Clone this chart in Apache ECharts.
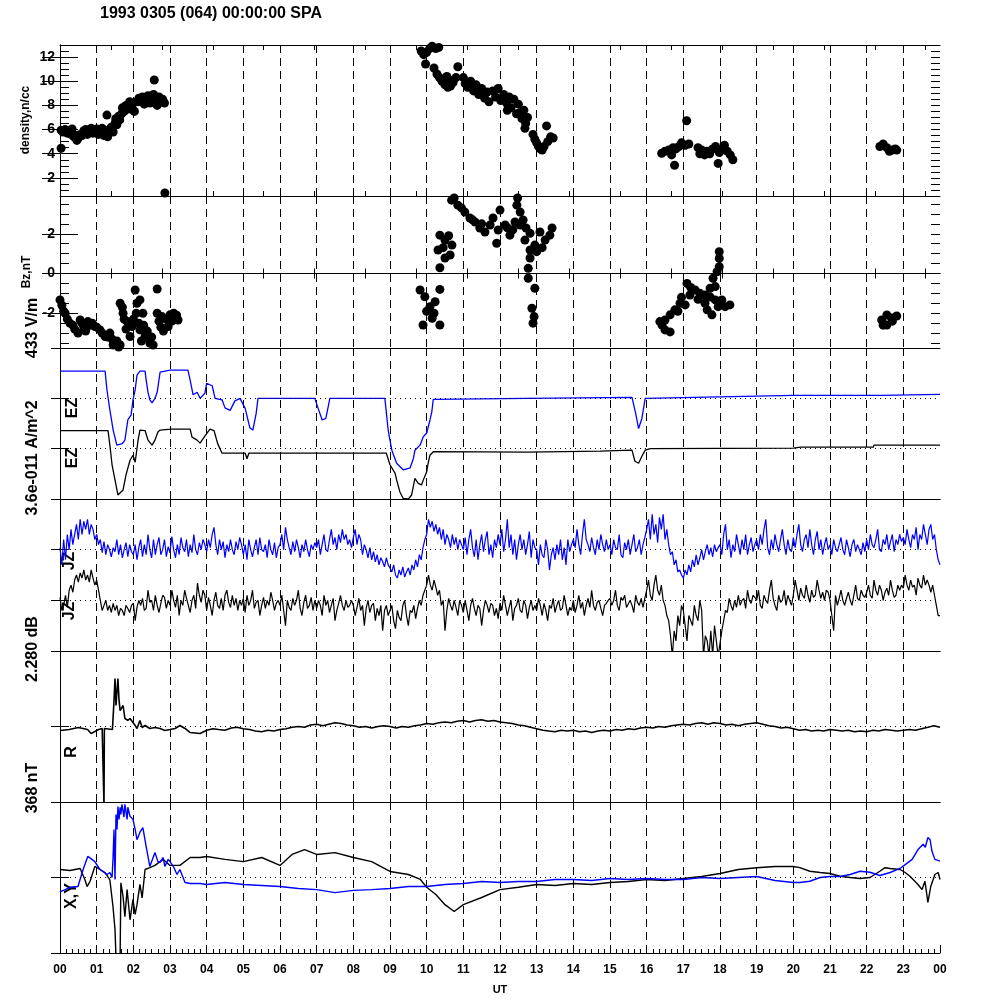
<!DOCTYPE html>
<html>
<head>
<meta charset="utf-8">
<script src="https://cdn.jsdelivr.net/npm/echarts@6/dist/echarts.min.js"></script>
<style>
  html, body { margin: 0; padding: 0; background: #fff; }
  #chart { width: 1000px; height: 1000px; }
</style>
</head>
<body>
<div id="chart"></div>
<script>
// ---------------- data ----------------
const titleText = '1993 0305 (064) 00:00:00 SPA'
const hourLabels = ['00', '01', '02', '03', '04', '05', '06', '07', '08', '09', '10', '11',
  '12', '13', '14', '15', '16', '17', '18', '19', '20', '21', '22', '23', '00']
const densityTicks = [2, 4, 6, 8, 10, 12]
const bzTicks = [-2, 0, 2]

// density, n/cc  [UT hour, value]
const densityPoints = [
  [0.03, 4.45], [0.03, 5.95], [0.08, 5.8], [0.14, 6.0], [0.2, 5.7], [0.25, 5.9], [0.3, 5.6], [0.33, 6.05],
  [0.38, 5.4], [0.42, 5.5], [0.46, 5.1], [0.5, 5.3], [0.55, 5.6], [0.6, 5.5], [0.65, 5.9], [0.7, 6.0],
  [0.75, 5.6], [0.8, 5.8], [0.85, 6.1], [0.9, 5.7], [0.95, 5.9], [1.0, 6.05], [1.05, 5.6], [1.1, 5.8],
  [1.15, 6.1], [1.2, 5.5], [1.25, 5.9], [1.28, 7.2], [1.3, 5.4], [1.35, 6.0], [1.4, 6.2], [1.45, 5.8],
  [1.5, 6.5], [1.52, 6.9], [1.55, 6.4], [1.6, 7.1], [1.63, 6.8], [1.68, 7.3], [1.7, 7.8], [1.75, 7.5],
  [1.8, 8.0], [1.85, 7.7], [1.9, 8.3], [1.95, 7.9], [2.0, 7.6], [2.03, 7.5], [2.1, 8.3], [2.15, 8.6],
  [2.2, 8.3], [2.25, 8.7], [2.3, 8.1], [2.35, 8.5], [2.4, 8.8], [2.45, 8.2], [2.5, 8.6], [2.55, 8.9],
  [2.57, 10.1], [2.6, 8.4], [2.65, 8.0], [2.7, 8.7], [2.75, 8.3], [2.8, 8.5], [2.85, 8.2], [2.86, 0.75],
  [9.85, 12.5], [9.92, 12.2], [10.0, 12.4], [10.08, 12.7], [10.15, 12.9], [10.25, 12.7], [10.33, 12.8],
  [9.97, 11.43], [10.2, 11.1], [10.28, 10.6], [10.35, 10.3], [10.42, 10.0], [10.5, 9.7], [10.58, 9.5],
  [10.65, 9.6], [10.72, 9.9], [10.8, 10.3], [10.85, 11.2], [10.55, 10.4], [10.62, 10.1],
  [11.0, 10.3], [11.05, 9.8], [11.12, 9.5], [11.2, 10.0], [11.28, 9.2], [11.35, 9.7], [11.42, 8.9],
  [11.5, 9.4], [11.58, 8.6], [11.65, 9.1], [11.7, 8.3], [11.8, 9.2], [11.88, 8.7], [11.95, 9.4],
  [12.02, 8.4], [12.1, 8.9], [12.18, 8.2], [12.25, 8.7], [12.3, 7.8], [12.38, 8.5], [12.45, 7.3],
  [12.2, 7.6], [12.5, 8.1], [12.55, 7.4], [12.6, 6.9], [12.65, 7.6], [12.7, 6.5], [12.75, 7.0],
  [12.68, 6.1], [13.27, 6.3], [12.9, 5.6], [12.95, 5.2], [13.0, 4.9], [13.05, 4.6], [13.1, 4.4],
  [13.15, 4.3], [13.2, 4.6], [13.3, 5.0], [13.38, 5.4], [13.45, 5.3],
  [16.41, 4.04], [16.5, 4.2], [16.6, 4.3], [16.68, 3.9], [16.72, 4.5], [16.76, 3.05], [16.8, 4.4],
  [16.88, 4.6], [16.95, 4.9], [17.05, 4.7], [17.09, 6.73], [17.15, 4.8], [17.4, 4.5], [17.45, 4.0],
  [17.5, 4.3], [17.58, 3.9], [17.65, 4.2], [17.72, 4.0], [17.8, 4.4], [17.88, 4.6], [17.95, 3.2],
  [17.98, 4.1], [18.05, 4.3], [18.12, 4.7], [18.2, 4.2], [18.28, 3.9], [18.35, 3.5],
  [22.36, 4.6], [22.45, 4.8], [22.55, 4.5], [22.62, 4.2], [22.7, 4.3], [22.78, 4.4], [22.82, 4.3]
]

// Bz, nT  [UT hour, value]
const bzPoints = [
  [0.0, -1.33], [0.05, -1.6], [0.1, -1.9], [0.14, -2.0], [0.2, -2.3], [0.27, -2.5], [0.35, -2.6],
  [0.4, -2.8], [0.49, -3.0], [0.55, -2.34], [0.6, -2.5], [0.65, -2.7], [0.7, -2.9], [0.76, -2.42],
  [0.82, -2.6], [0.88, -2.5], [0.95, -2.67], [1.0, -2.7], [1.09, -2.84], [1.15, -3.0], [1.23, -3.17],
  [1.3, -3.2], [1.36, -3.0], [1.42, -3.3], [1.45, -3.6], [1.5, -3.5], [1.55, -3.4], [1.6, -3.7],
  [1.64, -3.6], [1.64, -1.5], [1.7, -1.7], [1.72, -2.0], [1.75, -2.3], [1.8, -2.8], [1.83, -2.42],
  [1.87, -2.6], [1.91, -3.17], [1.96, -2.67], [2.0, -2.3], [2.05, -0.83], [2.08, -2.0], [2.1, -1.5],
  [2.15, -2.5], [2.18, -1.33], [2.18, -2.84], [2.22, -3.4], [2.26, -2.0], [2.28, -2.6], [2.32, -3.17],
  [2.38, -2.9], [2.45, -3.5], [2.5, -3.2], [2.54, -3.6], [2.65, -0.78], [2.65, -2.0], [2.7, -2.4],
  [2.75, -2.7], [2.78, -2.17], [2.82, -2.9], [2.9, -2.3], [2.95, -2.67], [3.0, -2.08], [3.05, -2.4],
  [3.1, -2.0], [3.14, -2.17], [3.18, -2.1], [3.22, -2.34],
  [9.82, -0.83], [10.36, -0.8], [9.95, -1.17], [10.09, -1.67], [10.23, -1.42], [10.15, -2.25],
  [9.9, -2.59], [10.36, -2.59], [10.0, -1.9], [10.2, -2.0],
  [10.36, 1.93], [10.31, 1.18], [10.5, 1.68], [10.64, 0.93], [10.69, 1.43], [10.5, 0.78], [10.36, 0.29],
  [10.45, 1.3], [10.6, 1.9], [10.68, 3.69], [10.85, 3.44], [11.04, 3.09], [11.18, 2.79], [10.75, 3.8],
  [10.95, 3.3], [11.32, 2.59], [11.45, 2.29], [11.59, 2.09], [11.73, 2.44], [11.81, 2.79], [11.95, 2.19],
  [11.25, 2.7], [11.5, 2.5], [12.0, 3.19], [12.14, 2.44], [12.27, 1.93], [11.91, 1.52], [12.41, 2.59],
  [12.55, 2.44], [12.48, 3.8], [12.46, 3.44], [12.55, 3.09], [12.63, 2.69], [12.71, 2.29], [12.82, 2.02],
  [12.35, 2.2], [12.2, 2.3], [12.68, 1.68], [12.82, 1.18], [12.95, 1.43], [13.09, 2.09], [13.23, 1.68],
  [13.36, 1.93], [13.42, 2.29], [12.82, 0.78], [12.77, 0.26], [13.0, 1.1], [13.15, 1.3],
  [12.77, -0.24], [12.95, -0.74], [12.87, -1.75], [12.93, -2.17], [12.9, -2.5],
  [17.98, 1.1], [17.98, 0.76], [17.98, 0.34], [17.92, 0.09], [17.81, -0.24], [17.87, -0.66],
  [17.73, -0.74], [17.59, -1.08], [17.45, -1.0], [17.32, -0.83], [17.18, -1.08], [17.05, -1.58],
  [16.91, -1.5], [16.77, -1.83], [16.64, -2.08], [16.5, -2.34], [16.42, -2.59], [16.5, -2.84],
  [16.64, -2.94], [16.36, -2.42], [17.59, -1.5], [17.65, -1.83], [17.78, -2.08], [17.95, -1.67],
  [18.14, -1.67], [18.27, -1.58], [18.05, -1.33], [17.87, -1.33], [17.73, -1.18], [17.1, -0.5],
  [17.2, -0.7], [17.4, -1.3], [16.85, -1.9], [16.95, -1.2],
  [22.41, -2.34], [22.55, -2.59], [22.68, -2.24], [22.82, -2.14], [22.55, -2.09], [22.45, -2.6], [22.7, -2.4]
]

// EZ traces (panel units: blue trace zero at 2, black trace zero at 1)
const ezBlue = [
  [0, 2.54], [1.23, 2.54], [1.28, 2.17], [1.36, 1.77], [1.45, 1.37], [1.55, 1.07], [1.58, 1.04],
  [1.7, 1.1], [1.77, 1.17], [1.85, 1.57], [1.94, 1.67], [1.99, 1.97], [2.05, 2.17], [2.1, 2.46],
  [2.18, 2.54], [2.32, 2.54], [2.35, 2.36], [2.4, 2.12], [2.45, 1.97], [2.51, 1.91], [2.59, 2.0],
  [2.65, 2.12], [2.73, 2.52], [3.0, 2.56], [3.49, 2.56], [3.55, 2.36], [3.63, 2.07], [3.74, 2.12],
  [3.82, 2.0], [3.95, 2.1], [4.0, 2.3], [4.15, 2.25], [4.23, 2.0], [4.42, 1.97], [4.5, 1.81],
  [4.64, 1.76], [4.77, 1.95], [4.91, 2.0], [5.05, 1.8], [5.18, 1.41], [5.26, 1.37], [5.35, 1.7],
  [5.4, 2.0], [6.95, 2.0], [7.04, 1.8], [7.15, 1.57], [7.25, 1.6], [7.36, 2.0], [8.86, 2.0],
  [8.95, 1.37], [9.05, 0.97], [9.18, 0.71], [9.36, 0.58], [9.55, 0.62], [9.64, 0.81], [9.68, 0.97],
  [9.82, 1.07], [9.91, 1.24], [10.0, 1.31], [10.09, 1.57], [10.14, 1.73], [10.18, 1.98], [10.23, 2.0],
  [12.73, 2.0], [12.76, 2.02], [15.6, 2.02], [15.7, 1.7], [15.78, 1.4], [15.87, 1.6], [15.96, 2.0],
  [16.0, 2.03], [20.0, 2.06], [22.41, 2.06], [22.42, 2.08], [24, 2.08]
]
const ezBlack = [
  [0, 1.36], [1.31, 1.36], [1.36, 1.07], [1.42, 0.68], [1.5, 0.38], [1.58, 0.08], [1.61, 0.08],
  [1.72, 0.18], [1.8, 0.48], [1.91, 0.77], [1.99, 0.87], [2.05, 0.73], [2.13, 1.17], [2.18, 1.37],
  [2.32, 1.36], [2.4, 1.17], [2.51, 1.07], [2.59, 1.17], [2.67, 1.33], [2.73, 1.37], [3.03, 1.39],
  [3.55, 1.39], [3.6, 1.23], [3.74, 1.17], [3.82, 1.11], [3.95, 1.25], [4.09, 1.39], [4.2, 1.36],
  [4.3, 1.1], [4.42, 0.91], [5.05, 0.91], [5.1, 0.8], [5.15, 0.91], [8.9, 0.91], [9.0, 0.68],
  [9.14, 0.51], [9.18, 0.38], [9.27, 0.14], [9.36, 0.01], [9.5, 0.0], [9.59, 0.08], [9.68, 0.41],
  [9.77, 0.31], [9.86, 0.28], [9.91, 0.38], [10.0, 0.54], [10.04, 0.71], [10.09, 0.87], [10.18, 0.94],
  [12.73, 0.93], [12.76, 0.95], [14.73, 0.95], [14.76, 0.97], [15.6, 0.97], [15.68, 0.75],
  [15.78, 0.71], [15.87, 0.85], [15.96, 0.97], [16.1, 1.0], [20.0, 1.01], [20.2, 1.03], [22.18, 1.03],
  [22.2, 1.07], [24, 1.07]
]

// JZ traces, one sample every 3 minutes from 00:00 to 24:00 (one row per hour)
const jzStepMinutes = 3
const jzBlue = [
  2.04, 1.7, 2.2, 1.8, 2.3, 2.0, 2.4, 2.1, 2.3, 2.5, 2.2, 2.6, 2.3, 2.56, 2.4, 2.6, 2.3, 2.5, 2.4, 2.2,
  2.3, 2.1, 2.2, 1.94, 2.16, 1.9, 2.1, 2.0, 1.86, 2.04, 1.96, 2.2, 1.9, 2.1, 1.84, 2.0, 2.14, 1.86, 2.1, 1.96,
  1.9, 2.1, 1.8, 2.04, 2.2, 1.86, 2.1, 1.9, 2.3, 2.0, 1.84, 2.2, 1.9, 2.1, 2.24, 1.9, 2.0, 2.2, 1.86, 2.06,
  1.94, 2.26, 2.0, 1.84, 2.1, 1.9, 2.24, 2.04, 1.96, 2.2, 1.86, 2.1, 1.94, 2.3, 2.0, 1.9, 2.14, 2.0, 2.2, 2.1,
  1.96, 2.2, 2.04, 2.3, 2.44, 2.1, 1.9, 2.2, 2.0, 2.16, 1.84, 2.1, 1.96, 2.2, 2.0, 1.9, 2.16, 2.0, 2.24, 2.1,
  1.9, 2.1, 1.8, 2.2, 2.0, 1.86, 2.04, 2.2, 1.9, 2.24, 2.0, 1.96, 2.1, 1.84, 2.2, 2.0, 1.9, 2.14, 1.84, 2.04,
  2.1, 2.3, 2.0, 2.44, 2.2, 2.04, 1.9, 2.16, 1.96, 2.2, 2.04, 1.84, 2.1, 1.96, 2.2, 2.0, 1.86, 2.1, 2.0, 2.14,
  2.04, 2.2, 1.9, 2.1, 2.3, 2.0, 1.96, 2.2, 2.4, 2.1, 2.24, 2.0, 2.3, 2.14, 2.4, 2.2, 2.3, 2.1, 2.2, 2.04,
  2.24, 2.4, 2.1, 2.3, 2.2, 1.9, 2.1, 2.0, 1.84, 2.04, 1.8, 1.96, 1.76, 1.9, 1.7, 1.84, 1.76, 1.66, 1.84, 1.7,
  1.64, 1.56, 1.7, 1.5, 1.44, 1.6, 1.5, 1.66, 1.46, 1.56, 1.64, 1.5, 1.7, 1.6, 1.8, 1.66, 1.9, 1.8, 2.04, 2.2,
  2.3, 2.6, 2.44, 2.56, 2.36, 2.5, 2.3, 2.44, 2.2, 2.4, 2.1, 2.3, 2.2, 2.04, 2.3, 2.1, 2.24, 2.0, 2.2, 2.1,
  2.0, 2.24, 1.9, 2.2, 2.4, 2.04, 1.86, 2.2, 1.8, 2.1, 2.3, 1.96, 2.2, 2.36, 1.9, 2.1, 1.84, 2.2, 2.04, 2.3,
  2.1, 2.4, 1.96, 2.2, 2.6, 2.04, 2.3, 1.9, 2.2, 1.8, 2.1, 2.3, 2.0, 2.2, 1.9, 2.1, 2.36, 1.84, 2.2, 2.04,
  2.0, 1.7, 2.1, 1.9, 1.84, 2.2, 2.0, 1.6, 1.9, 2.04, 1.8, 2.1, 1.9, 2.2, 1.8, 2.04, 1.7, 2.2, 1.96, 2.1,
  2.2, 2.04, 2.4, 2.1, 1.9, 2.3, 2.6, 2.2, 2.1, 1.96, 2.24, 2.04, 1.9, 2.2, 2.0, 2.3, 2.1, 1.96, 2.2, 2.0,
  2.1, 1.9, 2.2, 2.04, 2.0, 2.3, 1.9, 1.84, 2.14, 2.0, 2.2, 1.9, 2.1, 2.3, 1.96, 2.04, 2.2, 1.9, 2.1, 2.24,
  2.4, 2.6, 2.2, 2.7, 2.3, 2.5, 2.14, 2.64, 2.4, 2.7, 2.2, 2.4, 2.1, 1.9, 1.96, 1.7, 1.8, 1.56, 1.6, 1.5,
  1.44, 1.6, 1.5, 1.7, 1.56, 1.8, 1.66, 1.9, 1.7, 1.84, 2.0, 1.8, 1.96, 2.1, 1.9, 2.04, 1.86, 2.1, 1.96, 2.04,
  2.1, 1.9, 2.3, 2.5, 2.0, 2.2, 1.84, 2.1, 1.96, 2.3, 2.1, 1.9, 2.2, 2.0, 2.3, 1.9, 2.1, 2.24, 1.96, 2.1,
  2.2, 2.0, 2.3, 2.1, 2.4, 2.6, 2.04, 1.9, 2.2, 2.0, 2.3, 2.1, 1.96, 2.2, 2.4, 2.1, 1.9, 2.2, 2.0, 1.96,
  2.24, 2.04, 2.3, 2.5, 2.1, 1.96, 2.2, 2.3, 2.04, 2.4, 2.1, 1.9, 2.2, 2.36, 2.0, 2.2, 1.9, 2.1, 2.24, 2.0,
  2.1, 1.9, 2.2, 2.04, 1.96, 2.1, 2.24, 2.0, 1.9, 2.2, 2.04, 1.86, 2.1, 2.2, 1.96, 2.1, 2.0, 1.9, 2.14, 1.96,
  2.2, 2.0, 2.3, 2.1, 2.04, 2.2, 2.4, 2.0, 1.96, 2.2, 2.1, 2.3, 2.0, 2.16, 2.3, 1.96, 2.2, 2.1, 2.3, 2.16,
  2.24, 2.1, 2.4, 2.2, 2.04, 2.3, 2.2, 2.44, 2.0, 2.3, 2.2, 2.5, 2.3, 2.1, 2.4, 2.5, 2.2, 2.3, 2.0, 1.8,
  1.7
]
const jzBlack = [
  1.06, 0.8, 0.9, 1.1, 0.86, 1.2, 1.3, 1.16, 1.4, 1.5, 1.36, 1.54, 1.44, 1.6, 1.4, 1.5, 1.36, 1.6, 1.44, 1.3,
  1.4, 1.2, 1.0, 0.8, 0.9, 1.0, 0.8, 0.9, 0.76, 0.94, 0.8, 0.9, 0.7, 0.84, 0.8, 0.7, 0.9, 0.84, 0.76, 0.9,
  0.94, 0.6, 0.86, 1.0, 0.9, 1.04, 0.8, 0.84, 1.2, 0.96, 1.0, 0.8, 1.1, 0.9, 0.76, 0.94, 1.1, 1.06, 0.84, 1.0,
  0.9, 1.2, 1.0, 0.86, 1.1, 0.7, 1.0, 0.9, 1.2, 1.04, 0.9, 0.76, 1.0, 1.1, 0.84, 1.34, 1.1, 0.96, 1.2, 1.1,
  0.8, 1.06, 0.9, 0.7, 1.0, 1.16, 0.9, 0.84, 1.04, 0.8, 1.1, 1.2, 0.96, 0.86, 1.1, 0.9, 1.04, 0.8, 1.0, 0.9,
  1.04, 0.76, 1.1, 0.9, 1.0, 1.2, 0.84, 0.96, 1.0, 0.7, 0.9, 1.06, 0.84, 1.0, 0.9, 1.16, 1.0, 0.8, 0.94, 1.0,
  0.9, 1.1, 0.8, 0.5, 1.0, 0.86, 0.8, 1.04, 0.9, 1.0, 1.2, 0.84, 0.7, 0.96, 1.1, 0.84, 0.9, 1.06, 0.8, 1.0,
  0.84, 1.0, 0.9, 0.7, 1.1, 0.9, 1.0, 0.76, 0.9, 1.04, 0.6, 0.8, 0.94, 1.1, 0.9, 0.8, 1.0, 0.86, 0.9, 1.0,
  0.9, 0.7, 0.86, 1.04, 0.8, 0.9, 0.5, 0.84, 1.0, 0.76, 0.9, 0.94, 0.6, 0.84, 0.7, 0.9, 0.4, 0.8, 0.9, 0.7,
  0.7, 0.9, 0.6, 0.44, 0.8, 0.66, 0.6, 0.9, 1.0, 0.7, 0.5, 0.8, 0.76, 0.9, 0.64, 0.84, 1.0, 0.9, 1.1, 1.2,
  1.3, 1.5, 1.3, 1.2, 1.4, 1.26, 1.1, 1.2, 0.9, 1.0, 0.4, 0.8, 1.04, 0.9, 0.8, 1.0, 0.86, 0.7, 1.0, 0.9,
  0.76, 1.0, 0.8, 0.6, 0.9, 1.04, 0.84, 0.7, 0.9, 0.84, 0.5, 0.8, 1.0, 0.9, 0.76, 0.94, 0.9, 0.7, 0.84, 0.64,
  0.94, 0.8, 1.1, 0.9, 0.7, 0.86, 1.0, 0.6, 0.84, 0.9, 1.04, 0.8, 0.76, 1.0, 0.9, 0.64, 0.86, 1.0, 0.8, 0.9,
  0.8, 1.04, 0.9, 0.7, 0.94, 0.8, 0.6, 0.9, 0.84, 1.04, 0.76, 0.9, 1.0, 0.8, 0.84, 1.1, 0.9, 0.7, 0.86, 0.8,
  1.0, 0.76, 0.9, 1.1, 0.84, 0.96, 0.7, 0.9, 1.04, 0.86, 1.2, 0.9, 0.8, 0.96, 1.0, 0.84, 0.7, 0.9, 0.94, 1.0,
  1.04, 0.9, 1.0, 1.2, 0.9, 0.8, 1.06, 1.0, 1.1, 0.86, 0.84, 1.0, 0.9, 0.76, 1.1, 0.96, 0.9, 1.04, 0.86, 1.04,
  1.2, 1.4, 1.1, 1.0, 1.3, 1.5, 1.2, 1.1, 1.3, 1.0, 0.9, 0.7, 0.6, 0.3, -0.1, 0.4, 0.2, 0.7, 0.5, 0.9,
  0.8, 0.5, 0.2, 0.7, 0.6, 0.5, 0.9, 0.7, 0.6, 1.0, 0.8, -0.1, 0.3, 0.2, -0.1, 0.4, -0.1, 0.5, 0.2, -0.1,
  -0.1, 0.4, 0.6, 0.8, 0.76, 1.04, 0.9, 0.8, 1.0, 0.86, 1.1, 0.9, 1.0, 1.04, 0.84, 1.2, 1.0, 0.94, 1.1, 1.06,
  1.0, 1.2, 0.9, 0.84, 1.1, 1.0, 0.94, 1.2, 1.4, 1.04, 0.9, 0.8, 1.1, 0.96, 1.0, 1.2, 0.9, 1.1, 1.0, 0.9,
  1.1, 1.4, 1.2, 1.0, 1.24, 1.1, 1.04, 1.3, 1.1, 0.96, 1.2, 1.06, 1.1, 1.4, 1.2, 1.04, 1.16, 1.0, 1.2, 1.16,
  1.0, 0.7, 0.4, 1.1, 0.9, 1.04, 1.2, 1.0, 0.9, 1.04, 1.16, 1.0, 0.9, 1.1, 1.3, 1.04, 1.0, 1.2, 1.1, 1.06,
  1.16, 1.3, 1.1, 1.04, 1.4, 1.2, 1.1, 1.3, 1.2, 1.0, 1.16, 1.24, 1.1, 1.4, 1.2, 1.06, 1.1, 1.3, 1.2, 1.3,
  1.24, 1.5, 1.3, 1.2, 1.4, 1.26, 1.3, 1.1, 1.44, 1.3, 1.24, 1.5, 1.3, 1.4, 1.3, 1.16, 1.3, 1.1, 0.9, 0.7,
  0.7
]

// R trace (zero at 1)
const rTrace = [
  [0, 0.947], [0.25, 0.96], [0.5, 0.987], [0.75, 0.96], [0.85, 0.907], [0.95, 0.934], [1.05, 0.96],
  [1.15, 0.974], [1.19, 0.974], [1.2, -0.05], [1.21, 0.974], [1.43, 0.96], [1.445, 0.96],
  [1.473, 1.345], [1.5, 1.636], [1.527, 1.278], [1.555, 1.477], [1.58, 1.636], [1.61, 1.345],
  [1.64, 1.21], [1.69, 1.186], [1.72, 1.278], [1.77, 1.106], [1.85, 1.08], [1.91, 1.106],
  [1.99, 1.053], [2.05, 1.013], [2.1, 0.974], [2.18, 1.08], [2.24, 0.987], [2.32, 1.013],
  [2.45, 0.974], [2.59, 0.987], [2.73, 0.974], [2.86, 0.947], [3.0, 0.96], [3.14, 0.974],
  [3.27, 1.013], [3.41, 0.974], [3.55, 0.92], [3.82, 0.907],
  [4.0, 0.95], [4.17, 0.97], [4.33, 0.96], [4.5, 0.95], [4.67, 0.98], [4.83, 0.99],
  [5.0, 0.97], [5.17, 0.96], [5.33, 0.94], [5.5, 0.93], [5.67, 0.95], [5.83, 0.94],
  [6.0, 0.96], [6.17, 0.97], [6.33, 0.99], [6.5, 1.0], [6.67, 0.99], [6.83, 1.02],
  [7.0, 1.03], [7.17, 1.01], [7.33, 1.03], [7.5, 1.05], [7.67, 1.04], [7.83, 1.02],
  [8.0, 1.01], [8.17, 0.99], [8.33, 1.0], [8.5, 0.98], [8.67, 1.0], [8.83, 1.01],
  [9.0, 1.0], [9.17, 0.98], [9.33, 1.0], [9.5, 0.99], [9.67, 1.01], [9.83, 1.02],
  [10.0, 1.04], [10.17, 1.03], [10.33, 1.05], [10.5, 1.06], [10.67, 1.05], [10.83, 1.07],
  [11.0, 1.08], [11.17, 1.06], [11.33, 1.08], [11.5, 1.09], [11.67, 1.07], [11.83, 1.08],
  [12.0, 1.06], [12.17, 1.05], [12.33, 1.04], [12.5, 1.02], [12.67, 1.01], [12.83, 0.99],
  [13.0, 0.97], [13.17, 0.95], [13.33, 0.94], [13.5, 0.93], [13.67, 0.95], [13.83, 0.94],
  [14.0, 0.95], [14.17, 0.93], [14.33, 0.94], [14.5, 0.92], [14.67, 0.94], [14.83, 0.95],
  [15.0, 0.94], [15.17, 0.96], [15.33, 0.95], [15.5, 0.97], [15.67, 0.96], [15.83, 0.98],
  [16.0, 0.99], [16.17, 0.98], [16.33, 1.0], [16.5, 0.99], [16.67, 1.01], [16.83, 1.02],
  [17.0, 1.03], [17.17, 1.02], [17.33, 1.04], [17.5, 1.05], [17.67, 1.03], [17.83, 1.05],
  [18.0, 1.04], [18.17, 1.02], [18.33, 1.03], [18.5, 1.01], [18.67, 1.03], [18.83, 1.04],
  [19.0, 1.05], [19.17, 1.03], [19.33, 1.01], [19.5, 1.0], [19.67, 0.98], [19.83, 0.99],
  [20.0, 0.97], [20.17, 0.95], [20.33, 0.96], [20.5, 0.94], [20.67, 0.95], [20.83, 0.94],
  [21.0, 0.96], [21.17, 0.95], [21.33, 0.94], [21.5, 0.95], [21.67, 0.93], [21.83, 0.94],
  [22.0, 0.93], [22.17, 0.95], [22.33, 0.94], [22.5, 0.96], [22.67, 0.95], [22.83, 0.94],
  [23.0, 0.95], [23.17, 0.96], [23.33, 0.95], [23.5, 0.97], [23.67, 0.99], [23.83, 1.01],
  [24.0, 0.99]
]

// X,Y traces (zero at 1)
const xyBlack = [
  [0, 1.106], [0.27, 1.093], [0.55, 1.12], [0.6, 1.12], [0.68, 0.97], [0.74, 0.88], [0.82, 0.95],
  [0.95, 1.146], [1.09, 1.106], [1.23, 1.066], [1.36, 0.97], [1.445, 0.616], [1.5, 0.31],
  [1.527, -0.05], [1.58, -0.05], [1.64, -0.05], [1.66, 0.93], [1.72, 0.75], [1.77, 0.48],
  [1.83, 0.84], [1.91, 0.44], [1.99, 0.71], [2.05, 0.51], [2.1, 0.64], [2.18, 0.91], [2.24, 0.73],
  [2.32, 1.106], [2.45, 1.13], [2.59, 1.16], [2.73, 1.21], [2.81, 1.24], [3.0, 1.16], [3.27, 1.16],
  [3.55, 1.265], [3.82, 1.265], [4.0, 1.278], [4.5, 1.24], [5.0, 1.21], [5.5, 1.265], [6.0, 1.16],
  [6.33, 1.305], [6.67, 1.37], [7.0, 1.305], [7.5, 1.33], [8.0, 1.265], [8.5, 1.21], [9.0, 1.08],
  [9.5, 1.04], [9.83, 0.974], [10.0, 0.87], [10.25, 0.775], [10.5, 0.64], [10.75, 0.55], [11.0, 0.64],
  [11.5, 0.735], [12.0, 0.84], [12.5, 0.87], [13.0, 0.907], [13.5, 0.894], [14.0, 0.92], [14.5, 0.907],
  [15.0, 0.934], [15.5, 0.947], [16.0, 0.974], [16.5, 0.96], [17.0, 0.987], [17.5, 1.013], [18.0, 1.053],
  [18.5, 1.106], [19.0, 1.13], [19.5, 1.146], [20.0, 1.146], [20.18, 1.13], [20.45, 1.083],
  [20.73, 1.066], [21.0, 1.053], [21.27, 1.017], [21.55, 1.0], [21.82, 0.987], [22.09, 1.0],
  [22.36, 1.083], [22.5, 1.13], [22.64, 1.12], [22.91, 1.106], [23.05, 1.066], [23.18, 1.017],
  [23.4, 0.907], [23.51, 0.84], [23.59, 0.95], [23.67, 0.67], [23.75, 0.885], [23.86, 1.04],
  [23.95, 1.066], [24, 0.974]
]
const xyBlue = [
  [0, 0.81], [0.14, 0.84], [0.27, 0.87], [0.49, 0.88], [0.63, 1.106], [0.76, 1.28], [0.87, 1.24],
  [0.95, 1.21], [1.09, 1.106], [1.28, 1.04], [1.36, 1.066], [1.42, 1.0], [1.445, 1.24], [1.473, 1.636],
  [1.5, 0.974], [1.527, 1.835], [1.555, 1.636], [1.58, 1.94], [1.61, 1.77], [1.64, 1.93], [1.66, 1.835],
  [1.69, 1.97], [1.745, 1.8], [1.77, 1.97], [1.83, 1.77], [1.85, 1.93], [1.91, 1.81], [1.99, 1.77],
  [2.05, 1.636], [2.1, 1.5], [2.18, 1.6], [2.26, 1.66], [2.35, 1.41], [2.45, 1.146], [2.54, 1.265],
  [2.59, 1.33], [2.67, 1.21], [2.73, 1.2], [2.81, 1.265], [2.86, 1.146], [2.95, 1.24], [3.0, 1.21],
  [3.11, 1.13], [3.19, 1.04], [3.27, 1.106], [3.41, 0.934], [3.55, 0.92], [3.82, 0.92], [4.0, 0.907],
  [4.5, 0.934], [5.0, 0.907], [5.5, 0.894], [6.0, 0.88], [6.5, 0.854], [7.0, 0.84], [7.5, 0.8],
  [8.0, 0.83], [8.5, 0.84], [9.0, 0.854], [9.5, 0.88], [10.0, 0.88], [10.5, 0.907], [11.0, 0.92],
  [11.5, 0.947], [12.0, 0.934], [12.5, 0.947], [13.0, 0.947], [13.5, 0.974], [14.0, 0.974],
  [14.5, 0.96], [15.0, 0.987], [15.5, 0.974], [16.0, 0.987], [16.5, 0.974], [17.0, 0.974],
  [17.5, 1.0], [18.0, 0.987], [18.5, 1.0], [19.0, 1.013], [19.5, 0.96], [20.0, 0.934], [20.18, 0.934],
  [20.45, 0.95], [20.73, 1.0], [21.0, 1.013], [21.27, 1.013], [21.55, 1.04], [21.82, 1.083],
  [22.09, 1.07], [22.36, 1.026], [22.64, 1.066], [22.91, 1.12], [23.05, 1.17], [23.24, 1.24],
  [23.4, 1.37], [23.54, 1.44], [23.6, 1.4], [23.67, 1.53], [23.73, 1.5], [23.78, 1.35], [23.86, 1.24],
  [24, 1.216]
]

// ---------------- chart ----------------
const FONT = '"Liberation Sans", Arial, sans-serif'
const BLUE = '#0000ff'
const panels = [
  { top: 45, height: 151, min: 0.5, max: 13 },
  { top: 196, height: 152, min: -3.75, max: 3.9 },
  { top: 348, height: 151, min: 0, max: 3 },
  { top: 499, height: 152, min: 0, max: 3 },
  { top: 651, height: 151, min: 0, max: 2 },
  { top: 802, height: 151, min: 0, max: 2 }
]

// x ticks every 5000 s on the two scatter panels
const secTicks = []
for (let s = 0; s <= 86400; s += 5000) secTicks.push(s / 3600)
const halfSteps = (lo, hi) => {
  const out = []
  for (let v = lo; v <= hi + 1e-9; v += 0.5) out.push(Math.round(v * 10) / 10)
  return out
}

const myChart = echarts.init(document.getElementById('chart'), null, { renderer: 'canvas' })

const xAxes = []
const yAxes = []
const yBase = []
panels.forEach((p, g) => {
  const isLast = g === 5
  const hasSec = g < 2
  xAxes.push({
    type: 'value', gridIndex: g, position: 'bottom', min: 0, max: 24, interval: 1,
    axisLine: { show: true, lineStyle: { color: '#000', width: 1 } },
    axisTick: { show: isLast, inside: true, length: 8, lineStyle: { color: '#000' } },
    minorTick: { show: isLast, splitNumber: 6, length: 4, lineStyle: { color: '#000' } },
    axisLabel: {
      show: isLast, margin: 11, color: '#000', fontSize: 12, fontWeight: 'bold', fontFamily: FONT,
      formatter: (v) => hourLabels[Math.round(v)]
    },
    splitLine: { show: true, showMinLine: false, showMaxLine: false, lineStyle: { color: '#000', width: 1, type: [8, 5] } }
  })
  xAxes.push({
    type: 'value', gridIndex: g, position: 'bottom', min: 0, max: 24,
    axisLine: { show: false },
    axisTick: { show: hasSec, inside: true, length: 5, customValues: secTicks, lineStyle: { color: '#000' } },
    axisLabel: { show: false }, splitLine: { show: false }
  })
  xAxes.push({
    type: 'value', gridIndex: g, position: 'top', min: 0, max: 24,
    axisLine: { show: true, lineStyle: { color: '#000', width: 1 } },
    axisTick: { show: hasSec, inside: true, length: 5, customValues: secTicks, lineStyle: { color: '#000' } },
    axisLabel: { show: false }, splitLine: { show: false }
  })

  yBase.push(yAxes.length)
  if (g < 2) {
    const major = g === 0 ? densityTicks : bzTicks
    const minor = g === 0 ? halfSteps(0.5, 13) : halfSteps(-3.5, 3.5)
    const base = { type: 'value', gridIndex: g, min: p.min, max: p.max, splitLine: { show: false } };
    ['left', 'right'].forEach((pos) => {
      yAxes.push(Object.assign({}, base, {
        position: pos,
        axisLine: { show: true, lineStyle: { color: '#000', width: 1 } },
        axisTick: { show: true, inside: true, length: 18, customValues: major, lineStyle: { color: '#000' } },
        axisLabel: { show: false }
      }))
      yAxes.push(Object.assign({}, base, {
        position: pos,
        axisLine: { show: false },
        axisTick: { show: true, inside: true, length: 9, customValues: minor, lineStyle: { color: '#000' } },
        axisLabel: { show: false }
      }))
    })
    yAxes.push(Object.assign({}, base, {
      position: 'left',
      axisLine: { show: false },
      axisTick: { show: false },
      axisLabel: {
        show: true, customValues: major, margin: 5, color: '#000',
        fontSize: 14, fontWeight: 'bold', fontFamily: FONT,
        formatter: (v) => String(Math.round(v))
      }
    }))
  } else {
    ['left', 'right'].forEach((pos) => {
      yAxes.push({
        type: 'value', gridIndex: g, position: pos, min: p.min, max: p.max, interval: 1,
        axisLine: { show: true, lineStyle: { color: '#000', width: 1 } },
        axisTick: { show: true, inside: false, length: 9, lineStyle: { color: '#000' } },
        axisLabel: { show: false }, splitLine: { show: false }
      })
    })
  }
})

const zeroLine = (y, solid) => ({
  silent: true, symbol: 'none', label: { show: false },
  lineStyle: { color: '#000', width: 1, type: solid ? 'solid' : [1, 4] },
  emphasis: { disabled: true },
  data: [{ yAxis: y }]
})
const lineSeries = (g, data, color, baseline, width) => ({
  type: 'line', xAxisIndex: g * 3, yAxisIndex: yBase[g], data: data,
  showSymbol: false, symbol: 'none', silent: true, clip: true,
  lineStyle: { color: color, width: width || 1.3 },
  markLine: baseline === undefined ? undefined : zeroLine(baseline, false)
})
const jzData = (vals) => vals.map((v, i) => [i * jzStepMinutes / 60, v])

const series = [
  {
    type: 'scatter', xAxisIndex: 0, yAxisIndex: yBase[0], data: densityPoints,
    symbolSize: 9, itemStyle: { color: '#000', opacity: 1 }, silent: true, clip: true
  },
  {
    type: 'scatter', xAxisIndex: 3, yAxisIndex: yBase[1], data: bzPoints,
    symbolSize: 9, itemStyle: { color: '#000', opacity: 1 }, silent: true, clip: true,
    markLine: zeroLine(0, true)
  },
  lineSeries(2, ezBlack, '#000', 1),
  lineSeries(2, ezBlue, BLUE, 2),
  lineSeries(3, jzData(jzBlack), '#000', 1, 1.2),
  lineSeries(3, jzData(jzBlue), BLUE, 2, 1.2),
  lineSeries(4, rTrace, '#000', 1, 1.6),
  lineSeries(5, xyBlack, '#000', 1, 1.4),
  lineSeries(5, xyBlue, BLUE, undefined, 1.4)
]

const txt = (text, x, y, size, rotate, align) => ({
  type: 'text', x: x, y: y, rotation: rotate ? Math.PI / 2 : 0, silent: true,
  style: {
    text: text, fill: '#000', font: 'bold ' + size + 'px ' + FONT,
    align: align || 'center', verticalAlign: 'middle'
  }
})

const graphics = [
  txt(titleText, 100, 14, 16, false, 'left'),
  txt('density,n/cc', 26, 120, 12, true),
  txt('Bz,nT', 27, 272, 12, true),
  txt('433 V/m', 33, 328, 16, true),
  txt('3.6e-011 A/m^2', 33, 458, 16, true),
  txt('2.280 dB', 33, 649, 16, true),
  txt('368 nT', 33, 788, 16, true),
  txt('EZ', 73, 408, 16, true),
  txt('EZ', 73, 458, 16, true),
  txt('JZ', 70, 561, 16, true),
  txt('JZ', 70, 611, 16, true),
  txt('R', 72, 752, 16, true),
  txt('X,Y', 72, 896, 16, true),
  txt('UT', 500, 990, 11, false)
]

const option = {
  animation: false,
  backgroundColor: '#fff',
  grid: panels.map((p) => ({ left: 60, width: 880, top: p.top, height: p.height })),
  xAxis: xAxes,
  yAxis: yAxes,
  series: series,
  graphic: graphics
}
myChart.setOption(option)
</script>
</body>
</html>
